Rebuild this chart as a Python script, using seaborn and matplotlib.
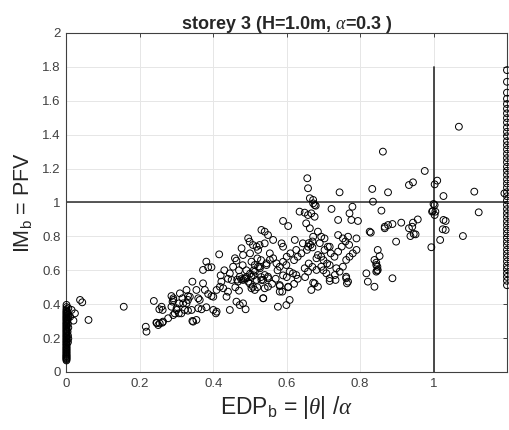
import matplotlib
matplotlib.use("Agg")
import matplotlib.pyplot as plt
from matplotlib.ticker import FormatStrFormatter
import seaborn as sns
import pandas as pd

# --- Data (EDP_b, IM_b pairs) ---
# points stuck at EDP_b = 0 (no rocking)
zero_pfv = [0.068, 0.074, 0.079, 0.083, 0.088, 0.093, 0.097, 0.102, 0.108, 0.114,
            0.119, 0.126, 0.131, 0.137, 0.143, 0.148, 0.156, 0.161, 0.167, 0.174,
            0.179, 0.186, 0.192, 0.198, 0.204, 0.211, 0.216, 0.223, 0.229, 0.236,
            0.242, 0.248, 0.255, 0.261, 0.268, 0.274, 0.281, 0.287, 0.293, 0.301,
            0.308, 0.314, 0.321, 0.327, 0.334, 0.341, 0.348, 0.355, 0.362, 0.371,
            0.383, 0.396]
zero_edp_off = [0.004, 0.003, 0.005, 0.004, 0.003, 0.005, 0.004, 0.003, 0.005, 0.004]
zero_pfv_off = [0.215, 0.238, 0.262, 0.285, 0.307, 0.322, 0.339, 0.352, 0.197, 0.176]

# points capped at the right edge (overturning)
cap_edp = 1.2
cap_pfv = [0.512, 0.538, 0.561, 0.583, 0.607, 0.628, 0.652, 0.676, 0.698, 0.721,
           0.747, 0.769, 0.793, 0.818, 0.841, 0.866, 0.889, 0.914, 0.937, 0.961,
           0.986, 1.012, 1.037, 1.061, 1.088, 1.112, 1.136, 1.163, 1.187, 1.211,
           1.238, 1.262, 1.287, 1.313, 1.338, 1.362, 1.391, 1.417, 1.443, 1.472,
           1.498, 1.526, 1.553, 1.581, 1.612, 1.648, 1.712, 1.781]

# main cloud
cloud_edp = [
    0.005, 0.014, 0.023, 0.019, 0.010, 0.037, 0.043, 0.060, 0.156,
    0.216, 0.218, 0.238, 0.246, 0.250, 0.259, 0.262, 0.263, 0.277, 0.286,
    0.291, 0.289, 0.295, 0.300, 0.309, 0.307, 0.313, 0.318, 0.327, 0.331,
    0.331, 0.331, 0.343, 0.343, 0.354, 0.359, 0.363, 0.359, 0.368, 0.372,
    0.381, 0.386, 0.395, 0.372, 0.377, 0.386, 0.395, 0.381, 0.407, 0.400,
    0.409, 0.418, 0.422, 0.416, 0.427, 0.436, 0.440, 0.445, 0.454, 0.459,
    0.463, 0.450, 0.467, 0.463, 0.472, 0.481, 0.488, 0.472, 0.481, 0.488,
    0.495, 0.477, 0.481, 0.495, 0.499, 0.508, 0.518, 0.522, 0.504, 0.513,
    0.522, 0.504, 0.513, 0.536, 0.549, 0.531, 0.540,
    0.245, 0.254, 0.261, 0.253, 0.291, 0.286, 0.291, 0.300, 0.316, 0.306,
    0.322, 0.327, 0.336, 0.341, 0.345, 0.354, 0.400, 0.409, 0.445,
    0.476, 0.485, 0.490, 0.465,
    0.862, 0.656, 0.658, 0.663, 0.672, 0.676, 0.744, 0.833, 0.835, 0.858,
    0.876, 0.722, 0.740, 0.771, 0.779, 0.776, 0.794, 0.635, 0.649, 0.658,
    0.667, 0.676, 0.590, 0.604, 0.653, 0.663, 0.672, 0.685, 0.694, 0.703,
    0.717, 0.740, 0.753, 0.767, 0.790, 0.826, 0.848, 0.867, 0.876, 0.549,
    0.563, 0.540, 0.526, 0.586, 0.590, 0.622, 0.626, 0.644, 0.658, 0.685,
    0.694, 0.681, 0.703, 0.712, 0.717, 0.735, 0.753, 0.762, 0.771, 0.780,
    0.790, 0.839, 0.844, 0.848, 0.817, 0.821, 0.839, 0.554, 0.563, 0.572,
    0.545, 0.526, 0.581, 0.599, 0.608, 0.617, 0.626, 0.649, 0.658, 0.681,
    0.694, 0.708, 0.717, 0.731, 0.744, 0.762, 0.767, 0.536, 0.549, 0.540,
    0.536, 0.581, 0.581, 0.604, 0.676, 0.685, 0.667, 0.576, 0.599, 0.608,
    1.069, 0.976, 0.933, 0.944, 1.003, 1.010, 1.027, 1.003, 0.998, 1.005,
    1.003, 0.867, 0.888, 0.912, 0.933, 0.944, 0.957, 0.942, 0.946, 0.937,
    0.951, 1.025, 1.033, 1.018, 0.994, 1.080, 0.898, 0.829, 0.853, 0.844,
    0.846, 0.888, 1.111, 1.193, 1.123, 1.027, 1.033,
    0.581, 0.588, 0.604, 0.672, 0.717, 0.733, 0.762, 0.764, 0.844, 0.847,
    0.508, 0.518, 0.504, 0.513, 0.527, 0.545, 0.554, 0.540, 0.549, 0.531,
    0.672, 0.679, 1.000, 0.996,
    0.660, 0.665, 0.670, 0.655, 0.670, 0.640, 0.620, 0.630, 0.610, 0.600,
    0.690, 0.700, 0.720, 0.730, 0.740, 0.750, 0.760, 0.770, 0.575, 0.590,
    0.600, 0.620, 0.630, 0.650, 0.660, 0.670, 0.700, 0.710, 0.560, 0.570,
    0.590, 0.470, 0.490, 0.500, 0.510, 0.440, 0.430, 0.420, 0.460, 0.470,
    0.500, 0.520, 0.530, 0.500, 0.520, 0.530, 0.480, 0.510,
]
cloud_pfv = [
    0.376, 0.366, 0.346, 0.303, 0.326, 0.425, 0.411, 0.307, 0.385,
    0.267, 0.238, 0.419, 0.289, 0.277, 0.385, 0.366, 0.297, 0.317, 0.448,
    0.435, 0.415, 0.346, 0.366, 0.464, 0.405, 0.346, 0.405, 0.484, 0.448,
    0.425, 0.362, 0.301, 0.533, 0.484, 0.435, 0.425, 0.376, 0.370, 0.602,
    0.651, 0.618, 0.618, 0.523, 0.484, 0.460, 0.448, 0.382, 0.346, 0.444,
    0.484, 0.503, 0.533, 0.694, 0.494, 0.444, 0.474, 0.582, 0.621, 0.671,
    0.657, 0.543, 0.533, 0.415, 0.395, 0.405, 0.370, 0.562, 0.543, 0.553,
    0.533, 0.730, 0.690, 0.789, 0.769, 0.749, 0.739, 0.720, 0.651, 0.631,
    0.621, 0.494, 0.484, 0.435, 0.503, 0.838, 0.828,
    0.291, 0.287, 0.291, 0.370, 0.336, 0.385, 0.425, 0.376, 0.435, 0.346,
    0.366, 0.405, 0.444, 0.366, 0.297, 0.307, 0.366, 0.356, 0.366,
    0.548, 0.550, 0.560, 0.545,
    1.300, 1.143, 1.084, 1.025, 1.015, 0.985, 1.060, 1.080, 1.005, 0.952,
    1.060, 0.962, 0.897, 0.936, 0.975, 0.897, 0.891, 0.946, 0.940, 0.926,
    0.936, 0.916, 0.891, 0.861, 0.877, 0.848, 0.798, 0.828, 0.798, 0.788,
    0.739, 0.808, 0.788, 0.798, 0.788, 0.828, 0.720, 0.857, 0.867, 0.808,
    0.779, 0.759, 0.749, 0.759, 0.739, 0.779, 0.720, 0.759, 0.739, 0.690,
    0.680, 0.671, 0.720, 0.739, 0.631, 0.612, 0.621, 0.661, 0.680, 0.700,
    0.720, 0.661, 0.631, 0.602, 0.582, 0.533, 0.503, 0.700, 0.671, 0.641,
    0.631, 0.621, 0.621, 0.631, 0.592, 0.582, 0.572, 0.612, 0.592, 0.602,
    0.621, 0.582, 0.553, 0.572, 0.592, 0.562, 0.533, 0.543, 0.562, 0.494,
    0.435, 0.513, 0.474, 0.503, 0.523, 0.503, 0.484, 0.385, 0.395, 0.425,
    1.447, 1.186, 1.103, 1.119, 1.107, 1.129, 1.038, 0.985, 0.950, 0.946,
    0.926, 0.848, 0.873, 0.881, 0.848, 0.881, 0.900, 0.857, 0.814, 0.802,
    0.812, 0.842, 0.838, 0.779, 0.736, 0.802, 0.769, 0.822, 0.684, 0.645,
    0.598, 0.553, 1.064, 1.054, 0.942, 0.897, 0.891,
    0.507, 0.474, 0.500, 0.527, 0.537, 0.543, 0.553, 0.523, 0.592, 0.621,
    0.503, 0.543, 0.562, 0.592, 0.612, 0.641, 0.661, 0.572, 0.553, 0.543,
    0.995, 0.981, 0.991, 0.946,
    0.760, 0.750, 0.770, 0.720, 0.735, 0.700, 0.660, 0.680, 0.700, 0.680,
    0.760, 0.660, 0.700, 0.680, 0.710, 0.740, 0.770, 0.750, 0.600, 0.650,
    0.560, 0.520, 0.550, 0.560, 0.640, 0.620, 0.600, 0.640, 0.520, 0.550,
    0.570, 0.600, 0.600, 0.580, 0.570, 0.550, 0.600, 0.570, 0.500, 0.480,
    0.520, 0.500, 0.560, 0.700, 0.670, 0.660, 0.630, 0.600,
]

# reference lines
EDP_LIMIT = 1.0
PFV_LIMIT = 1.0
EDP_LINE_TOP = 1.8

X_TICKS = [0, 0.2, 0.4, 0.6, 0.8, 1.0, 1.2]
X_TICK_LABELS = ["0", "0.2", "0.4", "0.6", "0.8", "1", ""]
Y_TICKS = [0, 0.2, 0.4, 0.6, 0.8, 1.0, 1.2, 1.4, 1.6, 1.8, 2.0]

edp = [0.0] * len(zero_pfv) + zero_edp_off + [cap_edp] * len(cap_pfv) + cloud_edp
pfv = zero_pfv + zero_pfv_off + cap_pfv + cloud_pfv
df = pd.DataFrame({"edp": edp, "pfv": pfv})

# --- Style ---
sns.set_style("white")
plt.rcParams["font.family"] = ["Liberation Sans", "DejaVu Sans"]
plt.rcParams["mathtext.fontset"] = "custom"
plt.rcParams["mathtext.rm"] = "Liberation Sans"
plt.rcParams["mathtext.it"] = "Liberation Serif:italic"
plt.rcParams["mathtext.bf"] = "Liberation Sans:bold"

fig = plt.figure(figsize=(5.09, 4.30), dpi=100)
ax = fig.add_axes([0.1306, 0.1349, 0.8654, 0.7884])

ax.grid(True, color="#e6e6e6", linewidth=0.7)
ax.set_axisbelow(True)

sns.scatterplot(data=df, x="edp", y="pfv", ax=ax, marker="o", s=24,
                facecolors="none", edgecolor="black", linewidth=0.7,
                legend=False, clip_on=False, zorder=3)

ax.plot([EDP_LIMIT, EDP_LIMIT], [0, EDP_LINE_TOP], color="#3a3a3a", linewidth=1.3, zorder=2)
ax.axhline(PFV_LIMIT, color="#2a2a2a", linewidth=1.1, zorder=2)

ax.set_xlim(0, 1.2)
ax.set_ylim(0, 2)
ax.set_xticks(X_TICKS)
ax.set_xticklabels(X_TICK_LABELS)
ax.set_yticks(Y_TICKS)
ax.yaxis.set_major_formatter(FormatStrFormatter("%g"))
ax.tick_params(direction="in", length=3, width=0.7, top=True, right=True,
               labelsize=9.5, colors="#404040", pad=4)
for sp in ax.spines.values():
    sp.set_color("#404040")
    sp.set_linewidth(0.8)

ax.set_title(r"storey 3 (H=1.0m, $\alpha$=0.3 )", fontsize=13,
             fontweight="bold", pad=3)
ax.set_xlabel(r"EDP$_{\mathrm{b}}$ = |$\theta$| /$\alpha$", fontsize=16.5,
              color="#262626", labelpad=3)
ax.set_ylabel(r"IM$_{\mathrm{b}}$ = PFV", fontsize=15.5, color="#262626",
              labelpad=6)

fig.savefig("out.png", dpi=100)
